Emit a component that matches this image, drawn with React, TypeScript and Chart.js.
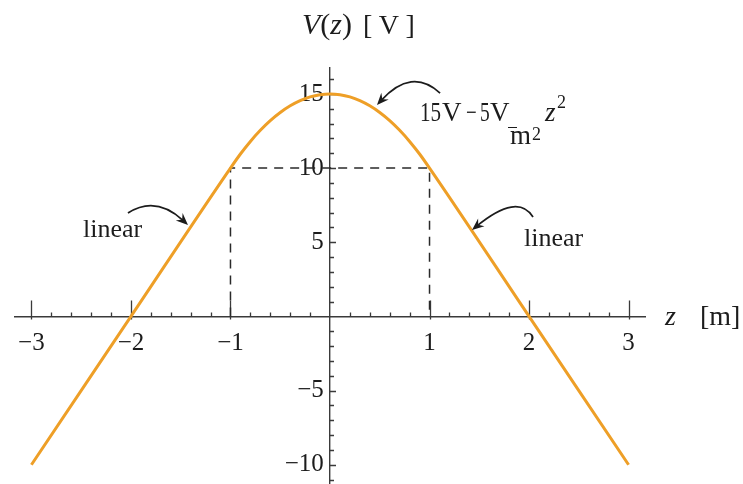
import React, { useEffect, useRef } from "react";
import { Chart, registerables } from "chart.js";

Chart.register(...registerables);

// Potential V(z) in volts versus position z in metres
const zValues = [-3, -2, -1, -0.9, -0.8, -0.7, -0.6, -0.5, -0.4, -0.3, -0.2, -0.1, 0, 0.1, 0.2, 0.3, 0.4, 0.5, 0.6, 0.7, 0.8, 0.9, 1, 2, 3];
const vValues = [-10, 0, 10, 10.95, 11.8, 12.55, 13.2, 13.75, 14.2, 14.55, 14.8, 14.95, 15, 14.95, 14.8, 14.55, 14.2, 13.75, 13.2, 12.55, 11.8, 10.95, 10, 0, -10];

// Dashed guide (z = ±1, V = 10)
const guideZ = [-1, -1, 1, 1];
const guideV = [0, 10, 10, 0];

// Axis ticks
const xTickValues = [-3, -2, -1, 1, 2, 3];
const yTickValues = [-10, -5, 5, 10, 15];
const xRange = [-3.165, 3.165];
const yRange = [-11.3, 16.75];

// Annotation arrows (data coordinates): start, mid-point, tip
const arrowStartZ = [-2.03, 2.04, 1.106];
const arrowStartV = [6.975, 6.7, 15.06];
const arrowMidZ = [-1.739, 1.809, 0.804];
const arrowMidV = [7.38, 7.31, 15.74];
const arrowTipZ = [-1.427, 1.427, 0.472];
const arrowTipV = [6.17, 5.83, 14.25];

const W = 743;
const H = 484;
const CURVE = "#EE9F27";
const AXIS = "#3a3a3a";
const INK = "#1c1c1c";
const SERIF = '"Liberation Serif", "Times New Roman", serif';

const fmt = (v: number) => (v < 0 ? "\u2212" + Math.abs(v) : String(v));

const axisTicksPlugin = {
  id: "axisTicks",
  beforeDatasetsDraw(chart: any) {
    const { ctx, scales } = chart;
    const x = scales.x;
    const y = scales.y;
    const x0 = x.getPixelForValue(0);
    const y0 = y.getPixelForValue(0);
    ctx.save();
    ctx.strokeStyle = AXIS;
    ctx.lineWidth = 1.3;
    ctx.beginPath();
    for (let i = -15; i <= 15; i++) {
      if (i === 0) continue;
      const px = Math.round(x.getPixelForValue(i / 5)) + 0.5;
      if (i % 5 === 0) {
        ctx.moveTo(px, y0 - 16);
        ctx.lineTo(px, y0 + 3);
      } else {
        ctx.moveTo(px, y0 - 4);
        ctx.lineTo(px, y0);
      }
    }
    for (let j = -11; j <= 16; j++) {
      if (j === 0) continue;
      const py = Math.round(y.getPixelForValue(j)) + 0.5;
      ctx.moveTo(x0, py);
      ctx.lineTo(x0 + (j % 5 === 0 ? 6 : 4), py);
    }
    ctx.stroke();
    ctx.restore();
  },
};

const arrowsPlugin = {
  id: "arrows",
  afterDatasetsDraw(chart: any) {
    const { ctx, scales } = chart;
    const x = scales.x;
    const y = scales.y;
    ctx.save();
    ctx.strokeStyle = INK;
    ctx.fillStyle = INK;
    ctx.lineWidth = 1.7;
    for (let k = 0; k < arrowStartZ.length; k++) {
      const sx = x.getPixelForValue(arrowStartZ[k]);
      const sy = y.getPixelForValue(arrowStartV[k]);
      const mx = x.getPixelForValue(arrowMidZ[k]);
      const my = y.getPixelForValue(arrowMidV[k]);
      const tx = x.getPixelForValue(arrowTipZ[k]);
      const ty = y.getPixelForValue(arrowTipV[k]);
      const cx = 2 * mx - (sx + tx) / 2;
      const cy = 2 * my - (sy + ty) / 2;
      let dx = tx - cx;
      let dy = ty - cy;
      const len = Math.hypot(dx, dy) || 1;
      dx /= len;
      dy /= len;
      const headL = 12;
      const headW = 5;
      const bx = tx - dx * headL;
      const by = ty - dy * headL;
      ctx.beginPath();
      ctx.moveTo(sx, sy);
      ctx.quadraticCurveTo(cx, cy, tx - dx * 6, ty - dy * 6);
      ctx.stroke();
      ctx.beginPath();
      ctx.moveTo(tx, ty);
      ctx.lineTo(bx - dy * headW, by + dx * headW);
      ctx.lineTo(tx - dx * 8, ty - dy * 8);
      ctx.lineTo(bx + dy * headW, by - dx * headW);
      ctx.closePath();
      ctx.fill();
    }
    ctx.restore();
  },
};

const zeroPadding = (s: any) => {
  s.paddingTop = 0;
  s.paddingBottom = 0;
  s.paddingLeft = 0;
  s.paddingRight = 0;
};

function Txt(props: { x: number; base: number; size: number; italic?: boolean; sx?: number; children: React.ReactNode }) {
  const { x, base, size, italic, sx, children } = props;
  return (
    <span
      style={{
        position: "absolute",
        left: x,
        top: base - 0.8375 * size,
        fontFamily: SERIF,
        fontSize: size,
        lineHeight: 1,
        fontStyle: italic ? "italic" : "normal",
        color: INK,
        whiteSpace: "nowrap",
        transform: sx ? `scaleX(${sx})` : undefined,
        transformOrigin: "left center",
      }}
    >
      {children}
    </span>
  );
}

export default function App() {
  const ref = useRef<HTMLCanvasElement | null>(null);

  useEffect(() => {
    if (!ref.current) return;
    const curve = zValues.map((z, i) => ({ x: z, y: vValues[i] }));
    const guide = guideZ.map((z, i) => ({ x: z, y: guideV[i] }));
    const tickFont = { family: SERIF, size: 25 };
    const chart = new Chart(ref.current, {
      type: "scatter",
      data: {
        datasets: [
          {
            data: guide,
            showLine: true,
            borderColor: "#2a2a2a",
            borderWidth: 1.5,
            borderDash: [9, 7],
            pointRadius: 0,
            fill: false,
            order: 2,
          } as any,
          {
            data: curve,
            showLine: true,
            borderColor: CURVE,
            borderWidth: 3,
            pointRadius: 0,
            cubicInterpolationMode: "monotone",
            fill: false,
            order: 1,
          } as any,
        ],
      },
      options: {
        responsive: false,
        maintainAspectRatio: false,
        animation: false,
        layout: { padding: { left: 15, right: 98, top: 68, bottom: 0 } },
        plugins: {
          legend: { display: false },
          tooltip: { enabled: false },
          title: { display: false },
        },
        scales: {
          x: {
            type: "linear",
            min: xRange[0],
            max: xRange[1],
            position: { y: 0 } as any,
            grid: { display: false },
            border: { display: true, color: AXIS, width: 1.4 },
            ticks: {
              font: tickFont,
              color: INK,
              padding: 4,
              maxRotation: 0,
              autoSkip: false,
              callback: (v: any) => fmt(Number(v)),
            },
            afterBuildTicks: (axis: any) => {
              axis.ticks = xTickValues.map((v) => ({ value: v }));
            },
            afterFit: zeroPadding,
          },
          y: {
            type: "linear",
            min: yRange[0],
            max: yRange[1],
            position: { x: 0 } as any,
            grid: { display: false },
            border: { display: true, color: AXIS, width: 1.4 },
            ticks: {
              font: tickFont,
              color: INK,
              padding: 6,
              autoSkip: false,
              callback: (v: any) => fmt(Number(v)) + " ",
            },
            afterBuildTicks: (axis: any) => {
              axis.ticks = yTickValues.map((v) => ({ value: v }));
            },
            afterFit: zeroPadding,
          },
        },
      },
      plugins: [axisTicksPlugin, arrowsPlugin],
    });
    return () => chart.destroy();
  }, []);

  return (
    <div style={{ position: "fixed", left: 0, top: 0, width: W, height: H, background: "#fff", overflow: "hidden" }}>
      <canvas ref={ref} width={W} height={H} style={{ position: "absolute", left: 0, top: 0, width: W, height: H }} />
      {/* axis titles */}
      <Txt x={302} base={34} size={30}>
        <i>V</i>(<i>z</i>)
      </Txt>
      <Txt x={363} base={34} size={28}>
        [ V ]
      </Txt>
      <Txt x={665} base={325} size={28} italic>
        z
      </Txt>
      <Txt x={700} base={325} size={28}>
        [m]
      </Txt>
      {/* annotations */}
      <Txt x={83} base={238} size={26}>
        linear
      </Txt>
      <Txt x={524} base={247} size={26}>
        linear
      </Txt>
      <Txt x={420} base={122} size={27} sx={0.78}>
        15
      </Txt>
      <Txt x={442} base={122} size={27}>
        V
      </Txt>
      <Txt x={466} base={122} size={27} sx={0.7}>
        {"\u2212"}
      </Txt>
      <Txt x={480} base={122} size={27} sx={0.72}>
        5
      </Txt>
      <Txt x={490} base={122} size={27}>
        V
      </Txt>
      <span style={{ position: "absolute", left: 508, top: 126.5, width: 9, height: 1.5, background: INK }} />
      <Txt x={510} base={145} size={27}>
        m
      </Txt>
      <Txt x={532} base={140} size={18}>
        2
      </Txt>
      <Txt x={545} base={122} size={27} italic>
        z
      </Txt>
      <Txt x={557} base={108} size={18}>
        2
      </Txt>
    </div>
  );
}
